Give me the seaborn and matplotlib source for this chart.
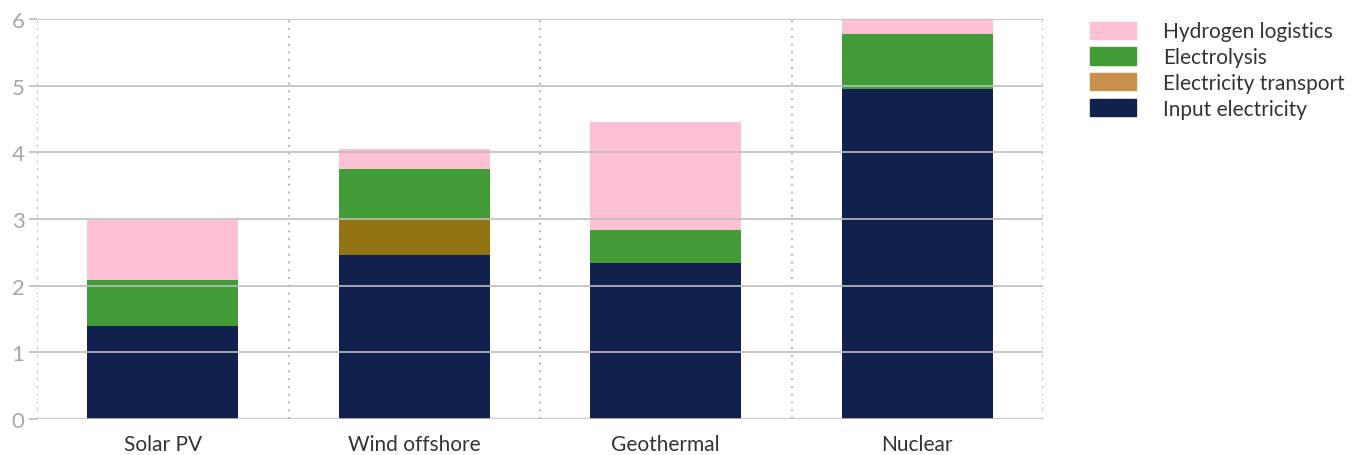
import matplotlib
matplotlib.use("Agg")
import matplotlib.pyplot as plt
import matplotlib.patches as mpatches
import seaborn as sns
import pandas as pd
import numpy as np

categories = ["Solar PV", "Wind offshore", "Geothermal", "Nuclear"]
input_electricity = [1.40, 2.46, 2.34, 4.95]
electricity_transport = [0.0, 0.54, 0.0, 0.0]
electrolysis = [0.69, 0.75, 0.50, 0.82]
hydrogen_logistics = [0.90, 0.30, 1.62, 0.23]

series_names = ["Input electricity", "Electricity transport", "Electrolysis", "Hydrogen logistics"]
bar_colors = ["#11204c", "#917314", "#419c37", "#fec1d4"]
legend_colors = ["#11204c", "#c8904a", "#419c37", "#fec1d4"]

sns.set_theme(style="white")
plt.rcParams['font.family'] = ['Lato', 'DejaVu Sans']

fig = plt.figure(figsize=(13.58, 4.56), dpi=100)
ax = fig.add_axes([37/1358, 1-420/456, (1043-37)/1358, 400/456])

layers = [input_electricity, electricity_transport, electrolysis, hydrogen_logistics]
cum = np.cumsum(np.array(layers), axis=0)
# draw from the top layer downward so each cumulative bar is partly covered
for i in range(len(layers) - 1, -1, -1):
    df = pd.DataFrame({"cat": categories, "val": cum[i]})
    sns.barplot(data=df, x="cat", y="val", color=bar_colors[i], width=0.6,
                saturation=1, ax=ax, zorder=1, linewidth=0)

ax.set_xlim(-0.5, 3.5)
ax.set_ylim(0, 6)
ax.set_yticks([0, 1, 2, 3, 4, 5, 6])
ax.set_xlabel("")
ax.set_ylabel("")

# horizontal grid on top of bars
ax.set_axisbelow(False)
ax.yaxis.grid(True, color="#bdbdbd", linewidth=1.2, zorder=3)
ax.xaxis.grid(False)
for xb in np.arange(-0.5, 4.0, 1.0):
    ax.axvline(xb, color="#b5b5b5", linestyle=(0, (1, 3)), linewidth=1.4, zorder=0.5)

for s in ax.spines.values():
    s.set_visible(False)

ax.tick_params(axis="y", colors="#bdbdbd", length=6, width=1.2, labelsize=16, pad=3,
               labelcolor="#a6a6a6", left=True)
ax.tick_params(axis="x", length=0, labelsize=15, labelcolor="#333333", pad=11)

handles = [mpatches.Patch(color=legend_colors[i], label=series_names[i]) for i in range(len(series_names) - 1, -1, -1)]
leg = fig.legend(handles=handles, loc="upper left", bbox_to_anchor=(1082/1358, 1-14/456),
                 frameon=False, fontsize=15, handlelength=2.2, handleheight=0.9,
                 handletextpad=1.3, labelspacing=0.28, borderaxespad=0)
for t in leg.get_texts():
    t.set_color("#333333")

fig.savefig("out.png", dpi=100)
